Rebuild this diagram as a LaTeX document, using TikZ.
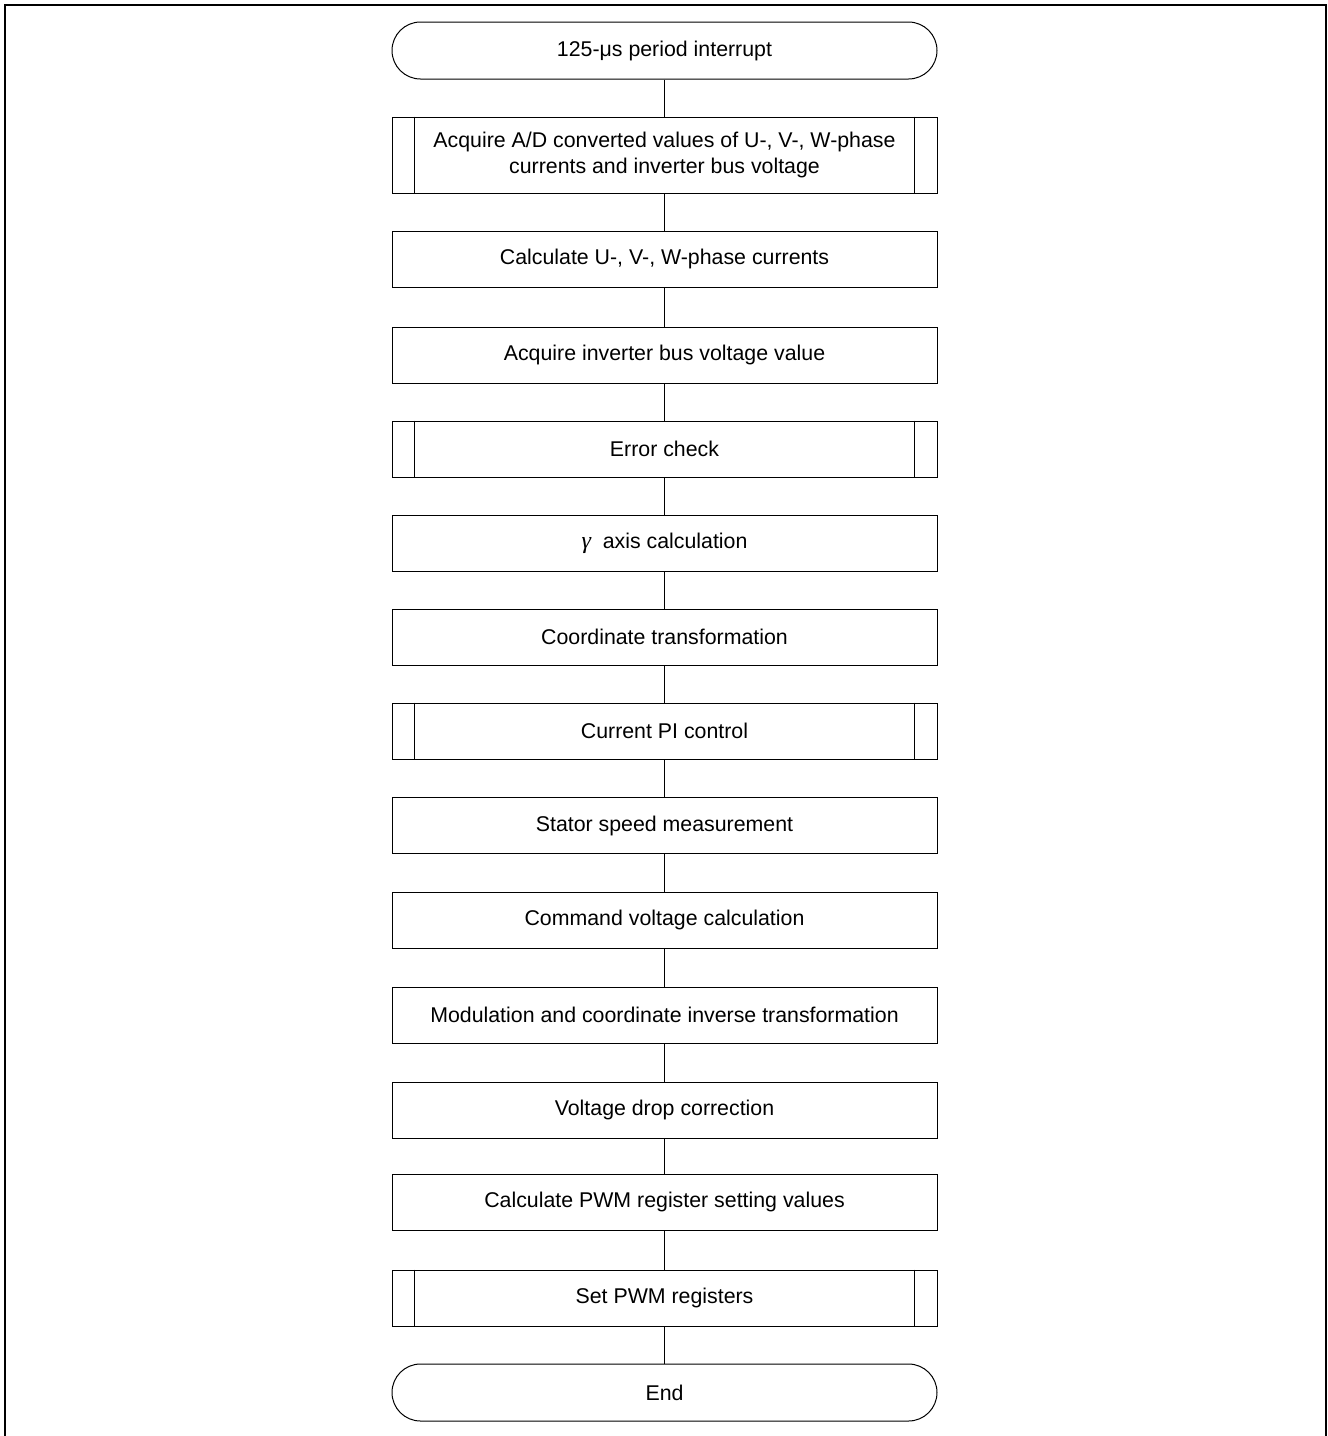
\documentclass[tikz,border=0pt]{standalone}
\usepackage{fontspec}
\setmainfont{Liberation Sans}
\newfontfamily\gammafont{Liberation Serif}
\usetikzlibrary{shapes.misc}
\begin{document}
\begin{tikzpicture}[x=0.75pt,y=-0.75pt,
  every node/.style={font=\fontsize{16pt}{19.5pt}\selectfont, align=center, inner sep=0pt, line width=0.75pt},
  proc/.style={draw, rectangle, minimum width=408.75pt, minimum height=42pt},
  predef/.style={proc},
  term/.style={draw, rounded rectangle, minimum width=408.75pt, minimum height=42.75pt},
  conn/.style={line width=0.75pt}]
\useasboundingbox (0,0) rectangle (1328,1436);
\draw[line width=1.5pt] (5,1436) -- (5,5) -- (1326,5) -- (1326,1436);

\node[term]   (n1)  at (664.5,50.5) {125-μs period interrupt};
\node[predef, minimum height=57pt] (n2) at (664.5,155) {Acquire A/D converted values of U-, V-, W-phase\\currents and inverter bus voltage};
\node[proc]   (n3)  at (664.5,259) {Calculate U-, V-, W-phase currents};
\node[proc]   (n4)  at (664.5,355) {Acquire inverter bus voltage value};
\node[predef] (n5)  at (664.5,449) {Error check};
\node[proc]   (n6)  at (664.5,543) {{\gammafont\itshape\fontsize{18pt}{19.5pt}\selectfont γ}\ \ axis calculation};
\node[proc]   (n7)  at (664.5,637) {Coordinate transformation};
\node[predef] (n8)  at (664.5,731) {Current PI control};
\node[proc]   (n9)  at (664.5,825.5) {Stator speed measurement};
\node[proc]   (n10) at (664.5,920) {Command voltage calculation};
\node[proc]   (n11) at (664.5,1015) {Modulation and coordinate inverse transformation};
\node[proc]   (n12) at (664.5,1110) {Voltage drop correction};
\node[proc]   (n13) at (664.5,1202) {Calculate PWM register setting values};
\node[predef] (n14) at (664.5,1298) {Set PWM registers};
\node[term]   (n15) at (664.5,1392.5) {End};

\foreach \n in {n2,n5,n8,n14}{
  \draw[conn] ([xshift=17.25pt]\n.north west) -- ([xshift=17.25pt]\n.south west);
  \draw[conn] ([xshift=-17.25pt]\n.north east) -- ([xshift=-17.25pt]\n.south east);
}
\foreach \a/\b in {n1/n2,n2/n3,n3/n4,n4/n5,n5/n6,n6/n7,n7/n8,n8/n9,n9/n10,n10/n11,n11/n12,n12/n13,n13/n14,n14/n15}{
  \draw[conn] (\a.south) -- (\b.north);
}
\end{tikzpicture}
\end{document}
